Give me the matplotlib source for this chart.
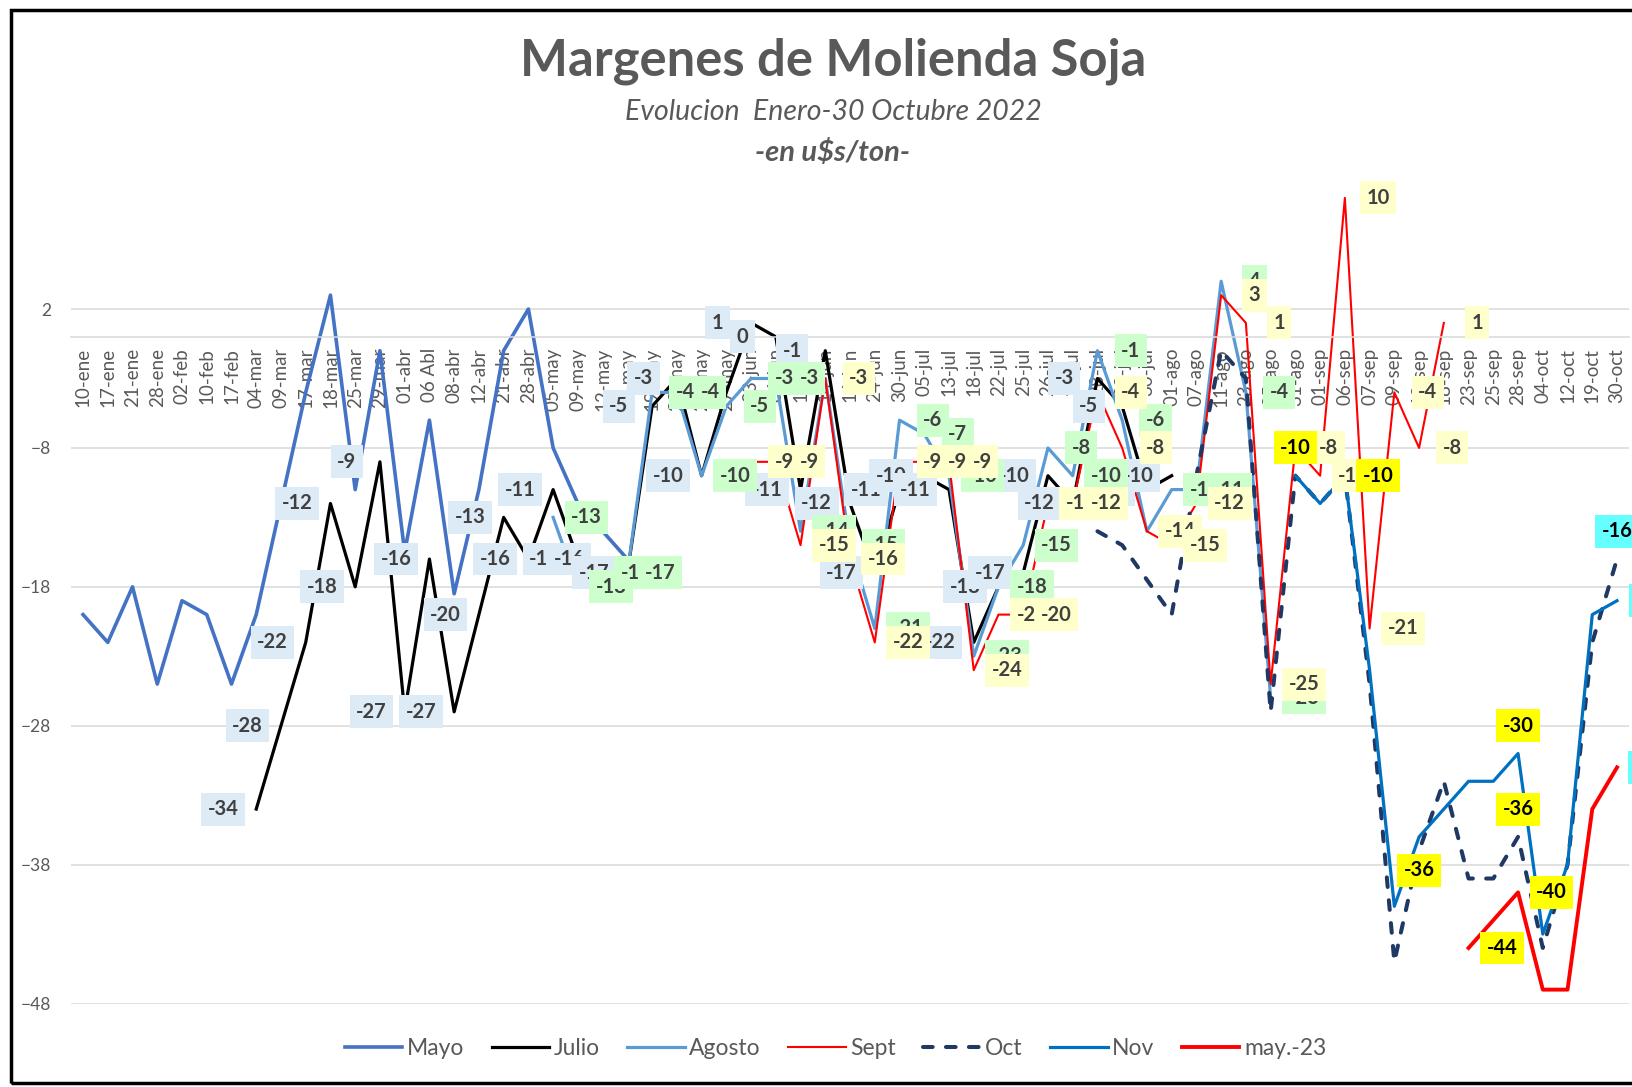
import matplotlib.pyplot as plt
import numpy as np
from matplotlib.patches import Rectangle

plt.rcParams['font.family'] = ['Lato', 'DejaVu Sans']

# categorias del eje x
fechas = ["10-ene", "17-ene", "21-ene", "28-ene", "02-feb", "10-feb", "17-feb", "04-mar",
          "09-mar", "17-mar", "18-mar", "25-mar", "29-mar", "01-abr", "06 Abl", "08-abr",
          "12-abr", "21-abr", "28-abr", "05-may", "09-may", "12-may", "16-may", "19-may",
          "23-may", "25-may", "27-may", "03-jun", "06-jun", "10-jun", "14-jun", "16-jun",
          "24-jun", "30-jun", "05-jul", "13-jul", "18-jul", "22-jul", "25-jul", "26-jul",
          "27-jul", "28-jul", "29-jul", "30-jul", "01-ago", "07-ago", "11-ago", "23-ago",
          "25-ago", "31-ago", "01-sep", "06-sep", "07-sep", "09-sep", "13-sep", "18-sep",
          "23-sep", "25-sep", "28-sep", "04-oct", "12-oct", "19-oct", "30-oct"]

# margenes en u$s/ton, cada serie desde su primera fecha
mayo_ini = "10-ene"
mayo = [-20, -22, -18, -25, -19, -20, -25, -20, -12, -4, 3, -11, -1, -15.5, -6, -18.5,
        -11, -1, 2, -8, -12, -14, -16]

julio_ini = "04-mar"
julio = [-34, -28, -22, -12, -18, -9, -27, -16, -27, -20, -13, -16, -11, -16, -16, -17,
         -5, -3, -10, -4, 1, 0, -11, -1, -12, -17, -11, -10, -11, -22, -18, -17, -10,
         -12, -3, -5, -11, -10]

agosto_ini = "05-may"
agosto = [-13, -18, -17, -17, -4, -4, -10, -5, -3, -3, -14, -3, -15, -21, -6, -7, -10,
          -23, -18, -15, -8, -10, -1, -6, -14, -11, -11, 4, -4, -26]

sept_ini = "03-jun"
sept = [-9, -9, -15, -3, -16, -22, -9, -9, -9, -24, -20, -20, -12, -12, -4, -8, -14,
        -15, -12, 3, 1, -25, -8, -10, 10, -21, -4, -8, 1]

oct_ini = "28-jul"
octubre = [-14, -15, -17.5, -20, -10, -1, -3, -27, -10, -12, -10, -25, -45, -37, -32,
           -39, -39, -36, -44, -38, -22, -16]

nov_ini = "31-ago"
nov = [-10, -12, -10, -24, -41, -36, -34, -32, -32, -30, -43, -38, -20, -19]

may23_ini = "23-sep"
may23 = [-44, -42, -40, -47, -47, -34, -31]

n = len(fechas)
x = np.arange(n)


def completar(ini, vals):
    s = np.full(n, np.nan)
    i0 = fechas.index(ini)
    s[i0:i0 + len(vals)] = vals
    return s


series = [
    ("Mayo", completar(mayo_ini, mayo), dict(color="#4472C4", lw=2.6)),
    ("Julio", completar(julio_ini, julio), dict(color="black", lw=2.3)),
    ("Agosto", completar(agosto_ini, agosto), dict(color="#5B9BD5", lw=2.3)),
    ("Sept", completar(sept_ini, sept), dict(color="#FF0000", lw=1.5)),
    ("Oct", completar(oct_ini, octubre), dict(color="#203864", lw=2.9, dashes=(2.4, 3.3),
                                              dash_capstyle="round")),
    ("Nov", completar(nov_ini, nov), dict(color="#0070C0", lw=2.3)),
    ("may.-23", completar(may23_ini, may23), dict(color="#FF0000", lw=2.8)),
]

fig = plt.figure(figsize=(16.32, 10.87), dpi=100)
ax = fig.add_axes([0.0433, 0.0768, 0.9551, 0.7539])

for nombre, vals, estilo in series:
    ax.plot(x, vals, label=nombre, zorder=2, **estilo)

ax.set_xlim(-0.5, n - 0.5)
ax.set_ylim(-48, 11)
ax.set_yticks(np.arange(-48, 3, 10))
ax.grid(axis="y", color="#D9D9D9", lw=1.1)
ax.set_axisbelow(True)
for s in ["top", "right", "left"]:
    ax.spines[s].set_visible(False)
ax.spines["bottom"].set_position(("data", 0))
ax.spines["bottom"].set_color("#D9D9D9")
ax.spines["bottom"].set_linewidth(1.1)
ax.set_xticks(x)
ax.set_xticklabels(fechas, rotation=90, fontsize=13.5, color="#595959")
ax.tick_params(axis="both", length=0)
ax.tick_params(axis="x", pad=8)
ax.tick_params(axis="y", pad=14, labelsize=12.5, labelcolor="#595959")

# etiquetas de datos
celeste = "#DDEBF7"
verde = "#CCFFCC"
amarillo = "#FFFFCC"
amarillo_f = "#FFFF00"
cian = "#66FFFF"
pos = {"izq": (-24, 0), "der": (24, 0), "arriba": (0, 20), "abajo": (0, -24)}


def etiqueta(vals, fecha, lado, fondo, color="#404040"):
    i = fechas.index(fecha)
    ax.annotate(f"{round(vals[i]):d}", (i, vals[i]), xytext=pos[lado],
                textcoords="offset points", ha="center", va="center",
                fontsize=14.5, fontweight="bold", color=color, zorder=6,
                bbox=dict(boxstyle="square,pad=0.32", fc=fondo, ec="none"))


v_julio = series[1][1]
v_agosto = series[2][1]
v_sept = series[3][1]
v_oct = series[4][1]
v_nov = series[5][1]
v_may23 = series[6][1]

for i in range(n):
    if not np.isnan(v_julio[i]):
        etiqueta(v_julio, fechas[i], "izq", celeste)
for i in range(n):
    if not np.isnan(v_agosto[i]):
        etiqueta(v_agosto, fechas[i], "der", verde)
for i in range(n):
    if not np.isnan(v_sept[i]):
        etiqueta(v_sept, fechas[i], "der", amarillo)

etiqueta(v_oct, "28-sep", "arriba", amarillo_f, "black")
etiqueta(v_oct, "30-oct", "arriba", cian, "black")
etiqueta(v_nov, "31-ago", "arriba", amarillo_f, "black")
etiqueta(v_nov, "06-sep", "der", amarillo_f, "black")
etiqueta(v_nov, "13-sep", "abajo", amarillo_f, "black")
etiqueta(v_nov, "28-sep", "arriba", amarillo_f, "black")
etiqueta(v_nov, "30-oct", "der", cian, "black")
etiqueta(v_may23, "23-sep", "der", amarillo_f, "black")
etiqueta(v_may23, "28-sep", "der", amarillo_f, "black")
etiqueta(v_may23, "30-oct", "der", cian, "black")

# titulos
fig.text(0.5104, 0.944, "Margenes de Molienda Soja", ha="center", va="center",
         fontsize=36.5, fontweight="bold", color="#595959")
fig.text(0.5104, 0.8966, "Evolucion  Enero-30 Octubre 2022", ha="center", va="center",
         fontsize=20.5, style="italic", color="#595959")
fig.text(0.5104, 0.860, "-en u$s/ton-", ha="center", va="center",
         fontsize=21, style="italic", fontweight="bold", color="#595959")

fig.legend(loc="center", bbox_to_anchor=(0.512, 0.035), ncol=7, frameon=False,
           fontsize=16.5, labelcolor="#595959", handlelength=2.5, columnspacing=1.2,
           handletextpad=0.2)

# marco del grafico
fig.patches.append(Rectangle((11 / 1632, 4 / 1087), 1.2, 1 - 14 / 1087,
                             transform=fig.transFigure, fill=False, ec="black", lw=2.5))

fig.savefig("out.png", dpi=100)
